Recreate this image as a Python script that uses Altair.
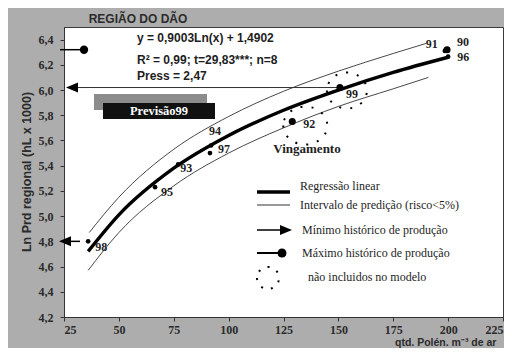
import altair as alt
import pandas as pd

# ---------------- data ----------------
years = ["98", "95", "93", "94", "97", "92", "99", "91", "90", "96"]
pollen = [36, 66.5, 77, 92, 91.5, 129, 150.7, 198.5, 199.5, 200]
ln_prod = [4.80, 5.23, 5.41, 5.56, 5.50, 5.75, 6.02, 6.31, 6.32, 6.265]
big_points = ["92", "99", "90"]

reg_x = [36, 50, 75, 100, 125, 150, 175, 200]
reg_y = [4.72, 5.01, 5.38, 5.64, 5.84, 6.00, 6.14, 6.26]
upper_x = [36.5, 50, 75, 100, 125, 150, 175, 190]
upper_y = [4.87, 5.15, 5.53, 5.79, 5.99, 6.15, 6.29, 6.37]
lower_x = [36, 50, 75, 100, 125, 150, 175, 191]
lower_y = [4.57, 4.87, 5.24, 5.50, 5.70, 5.87, 6.01, 6.10]

min_hist = 4.80
max_hist = 6.32
x_ticks = [25, 50, 75, 100, 125, 150, 175, 200, 225]
y_ticks = [4.2, 4.4, 4.6, 4.8, 5.0, 5.2, 5.4, 5.6, 5.8, 6.0, 6.2, 6.4]

eq_lines = ["y = 0,9003Ln(x) + 1,4902", "R² = 0,99; t=29,83***; n=8", "Press = 2,47"]
legend_texts = ["Regressão linear", "Intervalo de predição (risco<5%)",
                "Mínimo histórico de produção", "Máximo histórico de produção",
                "não incluidos no modelo"]

# ---------------- styling ----------------
SERIF = "Liberation Serif"
SANS = "Liberation Sans"
INK = "#1e1e1e"
label_off = {"98": (13, 6), "95": (12, 5), "93": (8, 4), "94": (4, -15), "97": (14, -4),
             "92": (17, 2), "99": (12, 6), "91": (-13, -7), "90": (16, -8), "96": (15, 0)}
HEAD = "M 0 0 L 12 -5 L 12 5 Z"
ELL_92 = "M -9 4 A 22 19 0 1 0 35 4 A 22 19 0 1 0 -9 4"
ELL_99 = "M -13 3 A 20 18 0 1 0 27 3 A 20 18 0 1 0 -13 3"
LEG_CIRC = "M -11 0 A 11 11 0 1 0 11 0 A 11 11 0 1 0 -11 0"

pts = pd.DataFrame({"x": pollen, "y": ln_prod, "year": years})
reg = pd.DataFrame({"x": reg_x, "y": reg_y})
up = pd.DataFrame({"x": upper_x, "y": upper_y})
lo = pd.DataFrame({"x": lower_x, "y": lower_y})
one = pd.DataFrame({"k": [0]})

X = alt.X("x:Q", scale=alt.Scale(domain=[25, 225], nice=False, zero=False),
          axis=alt.Axis(values=x_ticks, title=None, labelPadding=3, format="d"))
Y = alt.Y("y:Q", scale=alt.Scale(domain=[4.2, 6.5], nice=False, zero=False),
          axis=alt.Axis(values=y_ticks, title=None, labelPadding=7,
                        labelExpr="replace(format(datum.value, '.1f'), '.', ',')"))

layers = []
layers.append(alt.Chart(reg).mark_line(color="black", strokeWidth=3.4, interpolate="monotone").encode(x=X, y=Y))
layers.append(alt.Chart(up).mark_line(color="#333", strokeWidth=0.9, interpolate="monotone").encode(x=X, y=Y))
layers.append(alt.Chart(lo).mark_line(color="#333", strokeWidth=0.9, interpolate="monotone").encode(x=X, y=Y))

# prediction arrow from point 99 to the axis
p99 = pts[pts.year == "99"]
layers.append(alt.Chart(p99).mark_rule(color="#333", strokeWidth=1).encode(x=X, x2=alt.value(14), y=Y))
layers.append(alt.Chart(p99).mark_point(shape=HEAD, size=4, filled=True, color="black", opacity=1).encode(x=alt.value(2), y=Y))

# minimum historic arrow
mn = pd.DataFrame({"y": [min_hist]})
layers.append(alt.Chart(mn).mark_rule(color="black", strokeWidth=1.5).encode(x=alt.value(5), x2=alt.value(16), y=Y))
layers.append(alt.Chart(mn).mark_point(shape=HEAD, size=4, filled=True, color="black", opacity=1).encode(x=alt.value(-5), y=Y))

# maximum historic marker
mx = pd.DataFrame({"y": [max_hist]})
layers.append(alt.Chart(mx).mark_rule(color="black", strokeWidth=1.5).encode(x=alt.value(-4), x2=alt.value(20), y=Y))
layers.append(alt.Chart(mx).mark_circle(color="black", size=70, opacity=1).encode(x=alt.value(20), y=Y))

# points
layers.append(alt.Chart(pts[~pts.year.isin(big_points)]).mark_circle(color="black", size=22, opacity=1).encode(x=X, y=Y))
layers.append(alt.Chart(pts[pts.year.isin(big_points)]).mark_circle(color="black", size=50, opacity=1).encode(x=X, y=Y))

# dotted ellipses (not in model)
layers.append(alt.Chart(pts[pts.year == "92"]).mark_point(shape=ELL_92, size=4, filled=False, color="black",
              strokeWidth=2, strokeDash=[2, 9], opacity=1).encode(x=X, y=Y))
layers.append(alt.Chart(p99).mark_point(shape=ELL_99, size=4, filled=False, color="black",
              strokeWidth=2, strokeDash=[2, 9], opacity=1).encode(x=X, y=Y))

# point labels
for yr in years:
    dx, dy = label_off[yr]
    layers.append(alt.Chart(pts[pts.year == yr]).mark_text(
        dx=dx, dy=dy, font=SERIF, fontWeight="bold", fontSize=12, color=INK
    ).encode(x=X, y=Y, text="year:N"))

# text annotations
def txt(t, x, y, font=SANS, size=12, weight="bold", color=INK, align="left", angle=0):
    kw = dict(text=t, font=font, fontSize=size, fontWeight=weight, color=color, align=align, baseline="middle")
    if angle:
        kw["angle"] = angle
    return alt.Chart(one).mark_text(**kw).encode(x=alt.value(x), y=alt.value(y))

layers.append(txt("REGIÃO DO DÃO", 74, -8, align="center", color="#2b2b2b"))
layers.append(txt(eq_lines[0], 73, 11))
layers.append(txt(eq_lines[1], 73, 33))
layers.append(txt(eq_lines[2], 73, 49))
layers.append(txt("Vingamento", 243, 122, font=SERIF, size=13, align="center"))
layers.append(txt("Ln Prd regional (hL x 1000)", -37, 145, size=12.5, align="center", angle=270, color="#2b2b2b"))
layers.append(txt("qtd. Polén. m⁻³ de ar", 331, 316, size=10.5, color="#2b2b2b"))

# Previsão99 box
layers.append(alt.Chart(one).mark_rect(color="#8c8c8c").encode(
    x=alt.value(30), x2=alt.value(143), y=alt.value(67), y2=alt.value(83)))
layers.append(alt.Chart(one).mark_rect(color="#111").encode(
    x=alt.value(39), x2=alt.value(151), y=alt.value(76), y2=alt.value(92)))
layers.append(txt("Previsão99", 95, 84, font=SERIF, size=12.5, align="center", color="white"))

# legend
layers.append(alt.Chart(one).mark_rule(color="black", strokeWidth=3.5).encode(
    x=alt.value(193), x2=alt.value(226), y=alt.value(165)))
layers.append(alt.Chart(one).mark_rule(color="#333", strokeWidth=1).encode(
    x=alt.value(193), x2=alt.value(226), y=alt.value(178)))
layers.append(alt.Chart(one).mark_rule(color="black", strokeWidth=1.5).encode(
    x=alt.value(193), x2=alt.value(218), y=alt.value(203)))
layers.append(alt.Chart(one).mark_point(shape="M 0 0 L -12 -5 L -12 5 Z", size=4, filled=True,
              color="black", opacity=1).encode(x=alt.value(228), y=alt.value(203)))
layers.append(alt.Chart(one).mark_rule(color="black", strokeWidth=2).encode(
    x=alt.value(193), x2=alt.value(216), y=alt.value(226)))
layers.append(alt.Chart(one).mark_circle(color="black", size=80, opacity=1).encode(
    x=alt.value(218), y=alt.value(226)))
layers.append(alt.Chart(one).mark_point(shape=LEG_CIRC, size=4, filled=False, color="black",
              strokeWidth=2, strokeDash=[2, 8], opacity=1).encode(x=alt.value(204), y=alt.value(251)))
layers.append(txt(legend_texts[0], 236, 159, font=SERIF, weight="normal"))
layers.append(txt(legend_texts[1], 236, 178, font=SERIF, weight="normal"))
layers.append(txt(legend_texts[2], 238, 203, font=SERIF, weight="normal"))
layers.append(txt(legend_texts[3], 238, 226, font=SERIF, weight="normal"))
layers.append(txt(legend_texts[4], 244, 250, font=SERIF, weight="normal"))

chart = alt.layer(*layers).properties(
    width=439, height=290,
    padding={"left": 56, "top": 19, "right": 1, "bottom": 31},
    autosize=alt.AutoSizeParams(type="none"),
    background="#adadad",
).configure_view(
    fill="white", stroke="#3a3a3a", strokeWidth=1
).configure_axis(
    grid=False, domainColor="#333", tickColor="#333", tickSize=4,
    labelFont=SERIF, labelFontWeight="bold", labelFontSize=12, labelColor="#2a2a2a"
)

chart.save("out.html", embed_options={"renderer": "svg", "actions": False})
